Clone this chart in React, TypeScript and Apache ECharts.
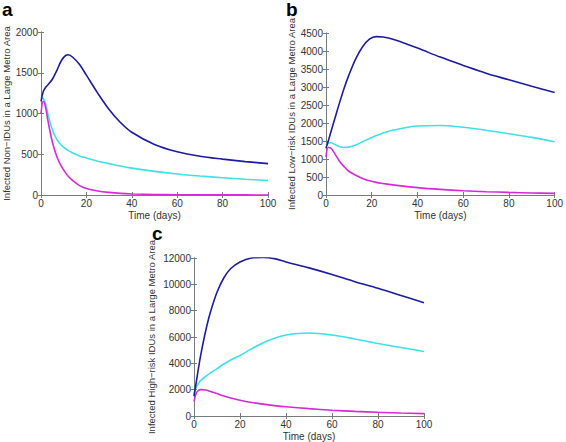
import React, { useEffect, useRef } from "react";
import * as echarts from "echarts";

const daysA = [0, 1, 2, 3, 5, 7, 9, 11, 12, 14, 17, 20, 25, 30, 35, 40, 50, 60, 70, 80, 90, 100];
const blueA = [1150, 1270, 1320, 1350, 1420, 1530, 1650, 1715, 1720, 1690, 1600, 1470, 1250, 1050, 890, 770, 620, 530, 475, 440, 410, 385];
const cyanA = [1200, 1185, 1120, 1000, 800, 680, 610, 565, 545, 515, 480, 455, 415, 385, 355, 330, 290, 258, 233, 212, 193, 178];
const magentaA = [1000, 1150, 1080, 920, 650, 470, 350, 265, 230, 175, 115, 80, 50, 32, 20, 13, 6, 3, 2, 1, 1, 0];

const daysB = [0, 1, 2, 4, 6, 8, 10, 13, 16, 19, 22, 25, 30, 40, 50, 60, 70, 80, 90, 100];
const blueB = [1300, 1500, 1720, 2150, 2580, 2980, 3330, 3780, 4120, 4330, 4400, 4390, 4310, 4080, 3830, 3600, 3380, 3200, 3020, 2850];
const cyanB = [1380, 1440, 1450, 1400, 1340, 1320, 1330, 1390, 1480, 1570, 1650, 1720, 1810, 1915, 1930, 1880, 1800, 1700, 1600, 1480];
const magentaB = [1050, 1320, 1310, 1130, 930, 780, 660, 550, 460, 395, 350, 320, 275, 205, 155, 118, 92, 72, 57, 45];

const daysC = [0, 1, 2, 3, 5, 7, 10, 13, 16, 20, 25, 30, 35, 40, 50, 60, 70, 80, 90, 100];
const blueC = [1500, 2600, 3700, 4700, 6400, 7800, 9400, 10500, 11200, 11700, 12000, 12050, 11950, 11700, 11250, 10750, 10200, 9700, 9150, 8600];
const cyanC = [1700, 2200, 2500, 2700, 3000, 3250, 3600, 3950, 4250, 4600, 5100, 5550, 5900, 6150, 6300, 6150, 5850, 5500, 5200, 4900];
const magentaC = [1100, 1750, 1950, 2000, 1980, 1880, 1700, 1520, 1370, 1200, 1030, 900, 790, 700, 560, 440, 350, 280, 225, 180];

const yNames = [
  "Infected Non\u2212IDUs in a Large Metro Area",
  "Infected Low\u2212risk IDUs in a Large Metro Area",
  "Infected High\u2212risk IDUs in a Large Metro Area",
];
const yMax = [2000, 4500, 12000];
const yInterval = [500, 500, 2000];
const xName = "Time (days)";
const panelLetters = ["a", "b", "c"];

const BLUE = "#1c1c9e";
const CYAN = "#3fe0e6";
const MAGENTA = "#d52ad5";
const AXIS = "#7a7a7a";
const FONT = "Liberation Sans";

export default function App() {
  const ref = useRef<HTMLDivElement>(null);
  useEffect(() => {
    if (!ref.current) return;
    const chart = echarts.init(ref.current, null, { renderer: "svg" });
    const grids = [
      { left: 36, top: 32, width: 232, height: 163 },
      { left: 326, top: 33, width: 232, height: 162 },
      { left: 194, top: 258, width: 230, height: 162 },
    ];
    const nameGaps = [30, 30, 38];
    const fmt = (v: number) => String(v);
    const xAxes: any[] = [];
    const yAxes: any[] = [];
    grids.forEach((_, i) => {
      xAxes.push({
        gridIndex: i,
        type: "value",
        min: 0,
        max: 100,
        interval: 20,
        position: "bottom",
        name: xName,
        nameLocation: "middle",
        nameGap: 15,
        nameTextStyle: { fontFamily: FONT, fontSize: 10, color: "#333" },
        axisLine: { show: true, lineStyle: { color: AXIS, width: 1 } },
        axisTick: { show: true, inside: true, length: 3, lineStyle: { color: AXIS } },
        axisLabel: { fontFamily: FONT, fontSize: 10, color: "#333", margin: 3, formatter: fmt },
        splitLine: { show: false },
      });
      xAxes.push({
        gridIndex: i,
        type: "value",
        min: 0,
        max: 100,
        interval: 20,
        position: "top",
        axisLine: { show: true, lineStyle: { color: AXIS, width: 1 } },
        axisTick: { show: true, inside: true, length: 3, lineStyle: { color: AXIS } },
        axisLabel: { show: false },
        splitLine: { show: false },
      });
      yAxes.push({
        gridIndex: i,
        type: "value",
        min: 0,
        max: yMax[i],
        interval: yInterval[i],
        position: "left",
        name: yNames[i],
        nameLocation: "middle",
        nameGap: nameGaps[i],
        nameTextStyle: { fontFamily: FONT, fontSize: 9.5, color: "#333" },
        axisLine: { show: true, lineStyle: { color: AXIS, width: 1 } },
        axisTick: { show: true, inside: true, length: 3, lineStyle: { color: AXIS } },
        axisLabel: { fontFamily: FONT, fontSize: 10, color: "#333", margin: 3, formatter: fmt },
        splitLine: { show: false },
      });
      yAxes.push({
        gridIndex: i,
        type: "value",
        min: 0,
        max: yMax[i],
        interval: yInterval[i],
        position: "right",
        axisLine: { show: true, lineStyle: { color: AXIS, width: 1 } },
        axisTick: { show: true, inside: true, length: 3, lineStyle: { color: AXIS } },
        axisLabel: { show: false },
        splitLine: { show: false },
      });
    });
    const mk = (days: number[], vals: number[], color: string, gi: number) => ({
      type: "line",
      xAxisIndex: gi * 2,
      yAxisIndex: gi * 2,
      data: days.map((d, k) => [d, vals[k]]),
      smooth: 0.35,
      showSymbol: false,
      symbol: "none",
      lineStyle: { color, width: 1.6 },
      z: 3,
    });
    const series = [
      mk(daysA, cyanA, CYAN, 0),
      mk(daysA, magentaA, MAGENTA, 0),
      mk(daysA, blueA, BLUE, 0),
      mk(daysB, cyanB, CYAN, 1),
      mk(daysB, magentaB, MAGENTA, 1),
      mk(daysB, blueB, BLUE, 1),
      mk(daysC, cyanC, CYAN, 2),
      mk(daysC, magentaC, MAGENTA, 2),
      mk(daysC, blueC, BLUE, 2),
    ];
    const letterPos = [
      [2, 0],
      [286, 0],
      [152, 224],
    ];
    chart.setOption({
      animation: false,
      backgroundColor: "#fff",
      grid: grids,
      xAxis: xAxes,
      yAxis: yAxes,
      series,
      graphic: panelLetters.map((t, i) => ({
        type: "text",
        left: letterPos[i][0],
        top: letterPos[i][1],
        style: { text: t, fontFamily: FONT, fontWeight: "bold", fontSize: 19, fill: "#000" },
      })),
    });
    return () => chart.dispose();
  }, []);
  return (
    <div
      ref={ref}
      style={{ position: "fixed", left: 0, top: 0, width: 566, height: 442 }}
    />
  );
}
